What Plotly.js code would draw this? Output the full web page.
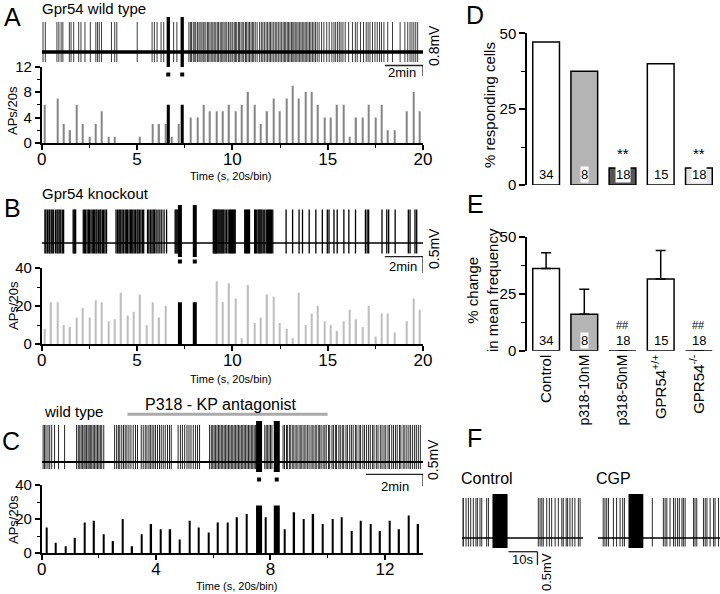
<!DOCTYPE html>
<html><head><meta charset="utf-8">
<script src="https://cdn.plot.ly/plotly-3.0.1.min.js"></script>
<style>html,body{margin:0;padding:0;background:#fff}#chart{width:720px;height:594px}</style>
</head><body><div id="chart"></div>
<script>
// ---------------- DATA ----------------
const binMin = 20 / 60;              // 20 s bins, in minutes
const durAB = 20, durC = 13.333, durF = 42;
// Panel A (Gpr54 wild type) spikes per 20 s bin
const histA = [6,0,7,3,2,6,3,1,3,5, 1,1,0,0,0,1,0,3,3,3, 1,3,0,4,4,6,5,5,5,6, 5,6,8,6,3,5,7,5,7,9, 7,8,8,6,4,4,6,6,1,4, 4,6,4,6,2,2,0,5,8,5];
const puffA = [6.64, 7.37];
const puffCountA = [6, 6];
const spikesA = [0.07,0.19,0.80,0.90,1.02,1.11,1.45,1.54,1.68,1.94,2.06,2.27,2.55,2.84,2.93,3.02,3.14,3.66,3.83,3.94,5.01,5.79,5.91,6.05,6.26,6.40,6.92,7.09,
 7.72,7.80,7.86,7.95,8.03,8.08,8.17,8.25,8.31,8.40,8.47,8.52,8.61,8.70,8.76,8.83,8.92,8.98,9.05,9.13,9.21,9.27,9.36,9.42,9.50,9.57,9.66,9.71,9.80,9.88,9.93,
 10.02,10.10,10.17,10.23,10.32,10.38,10.46,10.55,10.60,10.69,10.75,10.83,10.90,10.98,11.05,11.12,11.20,11.30,11.43,11.52,11.60,11.68,11.77,11.85,11.93,
 12.00,12.08,12.17,12.25,12.33,12.41,12.50,12.57,12.66,12.73,12.80,12.88,12.95,13.02,13.10,13.17,13.23,13.30,13.38,13.45,13.53,13.60,13.67,13.75,13.82,13.90,13.97,
 14.05,14.12,14.20,14.28,14.36,14.45,14.55,14.68,14.80,14.95,15.08,15.22,15.33,15.42,15.52,15.61,15.70,15.80,15.92,16.10,16.30,16.45,16.55,16.72,16.88,
 17.02,17.12,17.22,17.35,17.48,17.60,17.72,17.82,17.95,18.15,18.40,18.80,19.05,19.20,19.32,19.42,19.52,19.62,19.72];
// Panel B (Gpr54 knockout)
const histB = [8,22,22,10,9,14,19,14,23,22, 12,13,27,15,17,26,10,22,14,20, 0,0,0,0,0,0,0,33,22,32, 24,3,31,11,14,26,25,11,8,3, 27,10,16,20,12,10,7,12,18,13, 9,20,4,16,16,6,0,12,24,18];
const puffB = [7.25, 8.03];
const puffCountB = [22, 22];
const spikesB = [0.17,0.22,0.30,0.38,0.42,0.50,0.55,0.62,0.72,0.80,0.85,0.92,1.00,1.08,1.15,
 1.65,1.70,1.74,1.78,
 2.18,2.25,2.30,2.38,2.45,2.50,2.58,2.65,2.72,2.78,2.85,2.90,2.98,3.05,3.10,3.18,3.25,3.32,3.40,
 3.90,3.98,4.05,4.10,4.15,4.22,4.30,4.38,4.45,4.50,4.58,4.65,4.72,4.78,4.85,4.92,5.00,5.05,5.12,5.20,5.28,5.35,
 5.55,5.62,5.70,5.78,5.85,5.92,6.00,6.10,6.20,6.30,6.42,6.55,
 7.00,7.05,7.10,7.15,7.20,
 9.00,9.04,9.08,9.12,9.16,9.20,9.25,9.30,9.35,9.40,9.45,9.50,9.55,9.62,9.70,9.78,9.85,9.90,9.95,10.00,10.05,10.10,10.15,
 10.65,10.70,10.75,10.80,10.85,10.90,
 11.17,11.22,11.28,11.35,11.40,11.45,11.50,11.55,11.62,11.70,11.78,11.85,11.90,11.95,12.00,12.05,12.12,
 12.82,13.16,13.50,13.68,14.03,14.38,14.72,14.98,15.07,15.33,15.50,15.85,16.11,16.46,16.98,17.07,17.15,17.85,18.10,18.20,18.54,19.23,19.32,19.58,19.67];
// Panel C (wild type + P318)
const histC = [15,6,4,9,18,19,11,7,20,4, 11,17,14,14,8,19,15,12,18,18, 21,23,0,21,0,14,24,20,23,17, 20,21,13,19,17,13,19,14,22,17];
const puffC = [7.60, 8.22];
const puffCountC = [28, 28];
const drugC = [3.0, 10.0];
const spikesC = [0.05,0.10,0.15,0.22,0.28,0.35,0.45,0.59,0.80,
 1.22,1.28,1.33,1.38,1.43,1.48,1.52,1.57,1.62,1.66,1.70,1.75,1.80,1.85,1.90,1.95,2.00,2.05,2.10,2.17,
 2.55,2.62,2.68,2.73,2.80,2.86,2.92,2.98,3.05,3.12,3.20,3.28,3.35,
 3.48,3.55,3.62,3.68,3.75,3.80,3.86,3.92,3.98,4.05,4.12,4.18,4.25,4.32,4.40,4.47,4.53,
 4.77,4.85,4.92,5.00,5.08,5.15,5.22,5.30,5.38,5.45,5.52,
 5.87,5.93,5.98,6.03,6.08,6.13,6.18,6.23,6.28,6.33,6.38,6.43,6.48,6.53,6.58,6.63,6.68,6.73,6.78,6.83,6.88,6.93,6.98,7.03,7.08,7.13,7.18,7.23,7.28,7.33,7.38,7.43,7.48,
 7.80,7.85,7.90,7.95,8.00,8.05,
 8.44,8.49,8.56,8.60,8.67,8.71,8.78,8.82,8.89,8.93,9.00,9.06,9.10,9.17,9.21,9.28,9.31,9.38,9.45,9.49,9.56,9.60,9.67,9.72,9.77,9.84,9.90,9.95,10.03,10.07,
 10.15,10.20,10.27,10.31,10.39,10.44,10.51,10.56,10.64,10.69,10.77,10.83,10.89,10.97,11.02,11.10,11.15,11.23,11.29,11.36,11.43,11.49,11.57,11.62,11.70,
 11.76,11.84,11.90,11.97,12.03,12.11,12.16,12.24,12.30,12.37,12.43,12.51,12.56,12.64,12.70,12.77,12.84,12.90,12.97,13.04,13.10,13.17,13.24];
// Panel D / E
const groups = ['Control','p318-10nM','p318-50nM','GPR54+/+','GPR54-/-'];
const groupLabels = ['Control','<span style="font-size:14px">p318-10nM</span>','<span style="font-size:14px">p318-50nM</span>','GPR54<sup>+/+</sup>','GPR54<sup>-/-</sup>'];
const respondingPct = [47.1, 37.5, 5.6, 40.0, 5.6];
const changePct = [36, 16, 0, 31.5, 0];
const changeSEM = [7, 11, 0, 12.5, 0];
const nCells = [34, 8, 18, 15, 18];
const sigD = ['', '', '**', '', '**'];
const sigE = ['', '', '##', '', '##'];
const groupColors = ['#ffffff', '#b4b4b4', '#555555', '#ffffff', '#e4e4e4'];
// Panel F (seconds)
const spikesFctrl = [0.0,0.5,1.4,2.2,3.0,3.9,4.8,5.3,6.2,6.8,8.5,9.1,26.3,26.9,27.5,28.0,29.2,30.1,30.9,32.1,33.2,34.4,34.9,35.9,36.4,37.2,38.0,38.9,40.1,40.7];
const spikesFcgp = [1.8,2.4,3.0,3.6,5.3,6.4,7.6,8.5,9.1,18.7,22.5,23.1,23.7,24.8,26.0,26.6,27.4,28.0,28.9,29.4,30.0,32.9,33.4,34.0,36.3,36.9,37.5,38.6,39.8,40.3,41.5];
const puffFctrl = [10.5, 15.7];
const puffFcgp = [10.5, 15.6];

// ---------------- HELPERS ----------------
const W = 720, H = 594;
const fx = p => p / W;
const fy = p => 1 - p / H;
const xd = (a, b) => [fx(a), fx(b)];
const yd = (top, bottom) => [fy(bottom), fy(top)];
const FONT = 'Liberation Sans, Arial, Helvetica, sans-serif';

function vlines(times, lo, hi) {
  const x = [], y = [];
  times.forEach(t => { x.push(t, t, null); y.push(lo, hi, null); });
  return {x, y};
}
const binCenters = arr => arr.map((_, k) => (k + 0.5) * binMin);

const traces = [];
function recording(times, dur, puffs, xa, ya, amp, col, spikeW, baseW, puffW) {
  const s = vlines(times, amp.down, amp.up);
  traces.push({x: s.x, y: s.y, xaxis: xa, yaxis: ya, mode: 'lines', line: {color: col, width: spikeW}, hoverinfo: 'skip'});
  traces.push({x: [0, dur], y: [0, 0], xaxis: xa, yaxis: ya, mode: 'lines', line: {color: '#000', width: baseW}, hoverinfo: 'skip'});
  if (puffs) {
    const p = vlines(puffs, amp.pdown, amp.pup);
    traces.push({x: p.x, y: p.y, xaxis: xa, yaxis: ya, mode: 'lines', line: {color: '#000', width: puffW}, hoverinfo: 'skip'});
    traces.push({x: puffs, y: puffs.map(() => amp.sq), xaxis: xa, yaxis: ya, mode: 'markers', marker: {symbol: 'square', size: 4, color: '#000'}, hoverinfo: 'skip'});
  }
}
function histogram(vals, puffs, puffCounts, xa, ya, col, w, pw) {
  traces.push({type: 'bar', x: binCenters(vals), y: vals, width: w, xaxis: xa, yaxis: ya, marker: {color: col, line: {width: 0}}, hoverinfo: 'skip'});
  traces.push({type: 'bar', x: puffs, y: puffCounts, width: pw, xaxis: xa, yaxis: ya, marker: {color: '#000', line: {width: 0}}, hoverinfo: 'skip'});
}

// A
recording(spikesA, durAB, puffA, 'x', 'y', {up: 30, down: -10, pup: 35, pdown: -15, sq: -22.5}, '#3c3c3c', 1, 3.5, 3.3);
histogram(histA, puffA, puffCountA, 'x2', 'y2', '#858585', 0.065, 0.16);
// B
recording(spikesB, durAB, puffB, 'x3', 'y3', {up: 33.5, down: -10.5, pup: 38, pdown: -14, sq: -18.5}, '#000', 1.3, 1.5, 4);
histogram(histB, puffB, puffCountB, 'x4', 'y4', '#bdbdbd', 0.065, 0.21);
// C
recording(spikesC, durC, puffC, 'x5', 'y5', {up: 37, down: -7, pup: 41, pdown: -10, sq: -17.5}, '#262626', 1, 2.2, 6);
histogram(histC, puffC, puffCountC, 'x6', 'y6', '#000', 0.05, 0.21);
// D
traces.push({type: 'bar', x: groups, y: respondingPct, width: 0.7, xaxis: 'x7', yaxis: 'y7',
  marker: {color: groupColors, line: {color: '#000', width: 1.5}}, hoverinfo: 'skip'});
// E
traces.push({type: 'bar', x: groups, y: changePct, width: 0.7, xaxis: 'x8', yaxis: 'y8',
  marker: {color: groupColors.map((c, i) => i === 1 ? c : '#ffffff'), line: {color: '#000', width: 1.5}},
  error_y: {type: 'data', symmetric: false, array: changeSEM, arrayminus: changeSEM.map(() => 0), color: '#000', thickness: 1.5, width: 5, visible: true},
  hoverinfo: 'skip'});
// F
recording(spikesFctrl, 41.7, null, 'x9', 'y9', {up: 40, down: -8.5}, '#2a2a2a', 1, 1.5, 0);
recording(spikesFcgp, durF, null, 'x10', 'y10', {up: 40, down: -8.5}, '#2a2a2a', 1, 1.5, 0);

// ---------------- AXES ----------------
const hid = (dom, range, anchor) => ({domain: dom, range, anchor, visible: false, fixedrange: true});
const axBase = {showline: true, linecolor: '#000', linewidth: 1.5, ticks: 'outside', ticklen: 5, tickwidth: 1.5, tickcolor: '#000',
  showgrid: false, zeroline: false, fixedrange: true};
function hx(dom, range, dtick, minor, anchor) {
  return Object.assign({}, axBase, {domain: dom, range, anchor, tick0: 0, dtick, tickfont: {size: 17}, ticklabelstandoff: -5,
    minor: {ticks: 'outside', ticklen: 3, tickwidth: 1.2, tickcolor: '#000', tick0: 0, dtick: minor}});
}
function hy(dom, range, dtick, minor, anchor) {
  return Object.assign({}, axBase, {domain: dom, range, anchor, tick0: 0, dtick, tickfont: {size: 15},
    minor: {ticks: 'outside', ticklen: 3, tickwidth: 1.2, tickcolor: '#000', tick0: 0, dtick: minor}});
}
const histXdom = xd(41.7, 423);
const barXdom = xd(527, 718);

const layout = {
  width: W, height: H, margin: {l: 0, r: 0, t: 0, b: 0}, showlegend: false,
  paper_bgcolor: '#fff', plot_bgcolor: 'rgba(0,0,0,0)', barmode: 'overlay',
  font: {family: FONT, color: '#000', size: 14},
  // A
  xaxis: hid(histXdom, [0, durAB], 'y'), yaxis: hid(yd(14, 80), [-28, 38], 'x'),
  xaxis2: hx(histXdom, [0, durAB], 5, 2.5, 'y2'), yaxis2: hy(yd(66.5, 143), [0, 12], 4, 2, 'x2'),
  // B
  xaxis3: hid(histXdom, [0, durAB], 'y3'), yaxis3: hid(yd(200, 266), [-23, 43], 'x3'),
  xaxis4: hx(histXdom, [0, durAB], 5, 2.5, 'y4'), yaxis4: hy(yd(268, 344), [0, 40], 20, 10, 'x4'),
  // C
  xaxis5: hid(histXdom, [0, durC], 'y5'), yaxis5: hid(yd(415, 485), [-23, 47], 'x5'),
  xaxis6: hx(histXdom, [0, durC], 4, 2, 'y6'), yaxis6: hy(yd(485, 553), [0, 40], 20, 10, 'x6'),
  // D
  xaxis7: {domain: barXdom, range: [-0.5, 4.5], type: 'category', anchor: 'y7', visible: false, fixedrange: true},
  yaxis7: Object.assign({}, axBase, {domain: yd(33.3, 185), range: [0, 50], anchor: 'x7', tickvals: [0, 25, 50], ticklen: 6, tickfont: {size: 15},
    minor: {ticks: 'outside', ticklen: 4, tickwidth: 1.2, tickcolor: '#000', tick0: 0, dtick: 12.5}}),
  // E
  xaxis8: {domain: barXdom, range: [-0.5, 4.5], type: 'category', anchor: 'y8', showline: false, ticks: '', showgrid: false, zeroline: false,
    tickmode: 'array', tickvals: groups, ticktext: groupLabels, tickangle: -90, tickfont: {size: 15}, fixedrange: true},
  yaxis8: Object.assign({}, axBase, {domain: yd(236.7, 350.7), range: [0, 50], anchor: 'x8', tickvals: [0, 25, 50], ticklen: 6, tickfont: {size: 15},
    minor: {ticks: 'outside', ticklen: 4, tickwidth: 1.2, tickcolor: '#000', tick0: 0, dtick: 12.5}}),
  // F
  xaxis9: hid(xd(462, 583), [0, 41.7], 'y9'), yaxis9: hid(yd(490, 552), [-14, 48], 'x9'),
  xaxis10: hid(xd(598, 720), [0, durF], 'y10'), yaxis10: hid(yd(490, 552), [-14, 48], 'x10'),
  shapes: [], annotations: []
};

// ---------------- SHAPES ----------------
const S = layout.shapes;
const scaleMin = 2;
function scaleBar(xa, xEnd, len, yPx, yPx2) {
  S.push({type: 'line', xref: xa, yref: 'paper', x0: xEnd - len, x1: xEnd, y0: fy(yPx), y1: fy(yPx), line: {color: '#222', width: 1.3}});
  S.push({type: 'line', xref: xa, yref: 'paper', x0: xEnd, x1: xEnd, y0: fy(yPx), y1: fy(yPx2), line: {color: '#222', width: 1.3}});
}
scaleBar('x', durAB, scaleMin, 65.5, 76);
scaleBar('x3', durAB, scaleMin, 256.7, 273);
scaleBar('x5', durC, scaleMin, 474.3, 486);
scaleBar('x9', 26, 10, 551.7, 565);
// drug application bar
S.push({type: 'line', xref: 'x5', yref: 'paper', x0: drugC[0], x1: drugC[1], y0: fy(414.3), y1: fy(414.3), line: {color: '#aaaaaa', width: 3}});
// F puffs
S.push({type: 'rect', xref: 'x9', yref: 'y9', x0: puffFctrl[0], x1: puffFctrl[1], y0: -10, y1: 44, fillcolor: '#000', line: {width: 0}});
S.push({type: 'rect', xref: 'x10', yref: 'y10', x0: puffFcgp[0], x1: puffFcgp[1], y0: -10, y1: 44, fillcolor: '#000', line: {width: 0}});

// ---------------- ANNOTATIONS ----------------
const A = layout.annotations;
function txt(text, x, y, size, opts) {
  A.push(Object.assign({text, x: fx(x), y: fy(y), xref: 'paper', yref: 'paper', showarrow: false, font: {size}, xanchor: 'center', yanchor: 'middle'}, opts || {}));
}
[['A', 13, 17], ['B', 12, 208], ['C', 11, 441], ['D', 475, 15], ['E', 475, 204], ['F', 474, 438]].forEach(p => txt(p[0], p[1], p[2], 25));
txt('Gpr54 wild type', 40, 9, 15, {xanchor: 'left'});
txt('Gpr54 knockout', 40, 194, 15, {xanchor: 'left'});
txt('wild type', 42, 411, 15, {xanchor: 'left'});
txt('P318 - KP antagonist', 220, 404, 16);
[176, 379, 586].forEach((y, i) => txt('Time (s, 20s/bin)', i === 2 ? 237 : 231, y, 11));
[110, 305, 519].forEach(y => txt('APs/20s', 13, y, 13, {textangle: -90}));
txt('2min', 402, 72, 13); txt('2min', 403, 266, 13); txt('2min', 395, 486, 13);
txt('0.8mV', 434, 46, 14, {textangle: -90});
txt('0.5mV', 434, 249, 14, {textangle: -90});
txt('0.5mV', 433, 460, 14, {textangle: -90});
txt('% responding cells', 489, 105, 15, {textangle: -90});
txt('% change<br>in mean frequency', 482, 290, 15, {textangle: -90});
txt('Control', 487, 478, 16); txt('CGP', 613, 478, 16);
txt('10s', 522, 559, 13);
txt('0.5mV', 546, 572, 13, {textangle: -90});
groups.forEach((g, i) => {
  A.push({text: String(nCells[i]), x: g, y: 0, xref: 'x7', yref: 'y7', showarrow: false, yanchor: 'bottom', yshift: 1.5,
    font: {size: 13}, bgcolor: '#fff', borderpad: 0});
  A.push({text: String(nCells[i]), x: g, y: 0, xref: 'x8', yref: 'y8', showarrow: false, yanchor: 'bottom', yshift: 2,
    font: {size: 13}, bgcolor: changePct[i] > 0 ? '#fff' : 'rgba(0,0,0,0)', borderpad: 0});
  if (sigD[i]) A.push({text: sigD[i], x: g, y: respondingPct[i], xref: 'x7', yref: 'y7', showarrow: false, yanchor: 'bottom', yshift: 4, font: {size: 15}});
  if (sigE[i]) A.push({text: sigE[i], x: g, y: 0, xref: 'x8', yref: 'y8', showarrow: false, yanchor: 'bottom', yshift: 18, font: {size: 11}});
});

Plotly.newPlot('chart', traces, layout, {displayModeBar: false, responsive: false});
</script></body></html>
